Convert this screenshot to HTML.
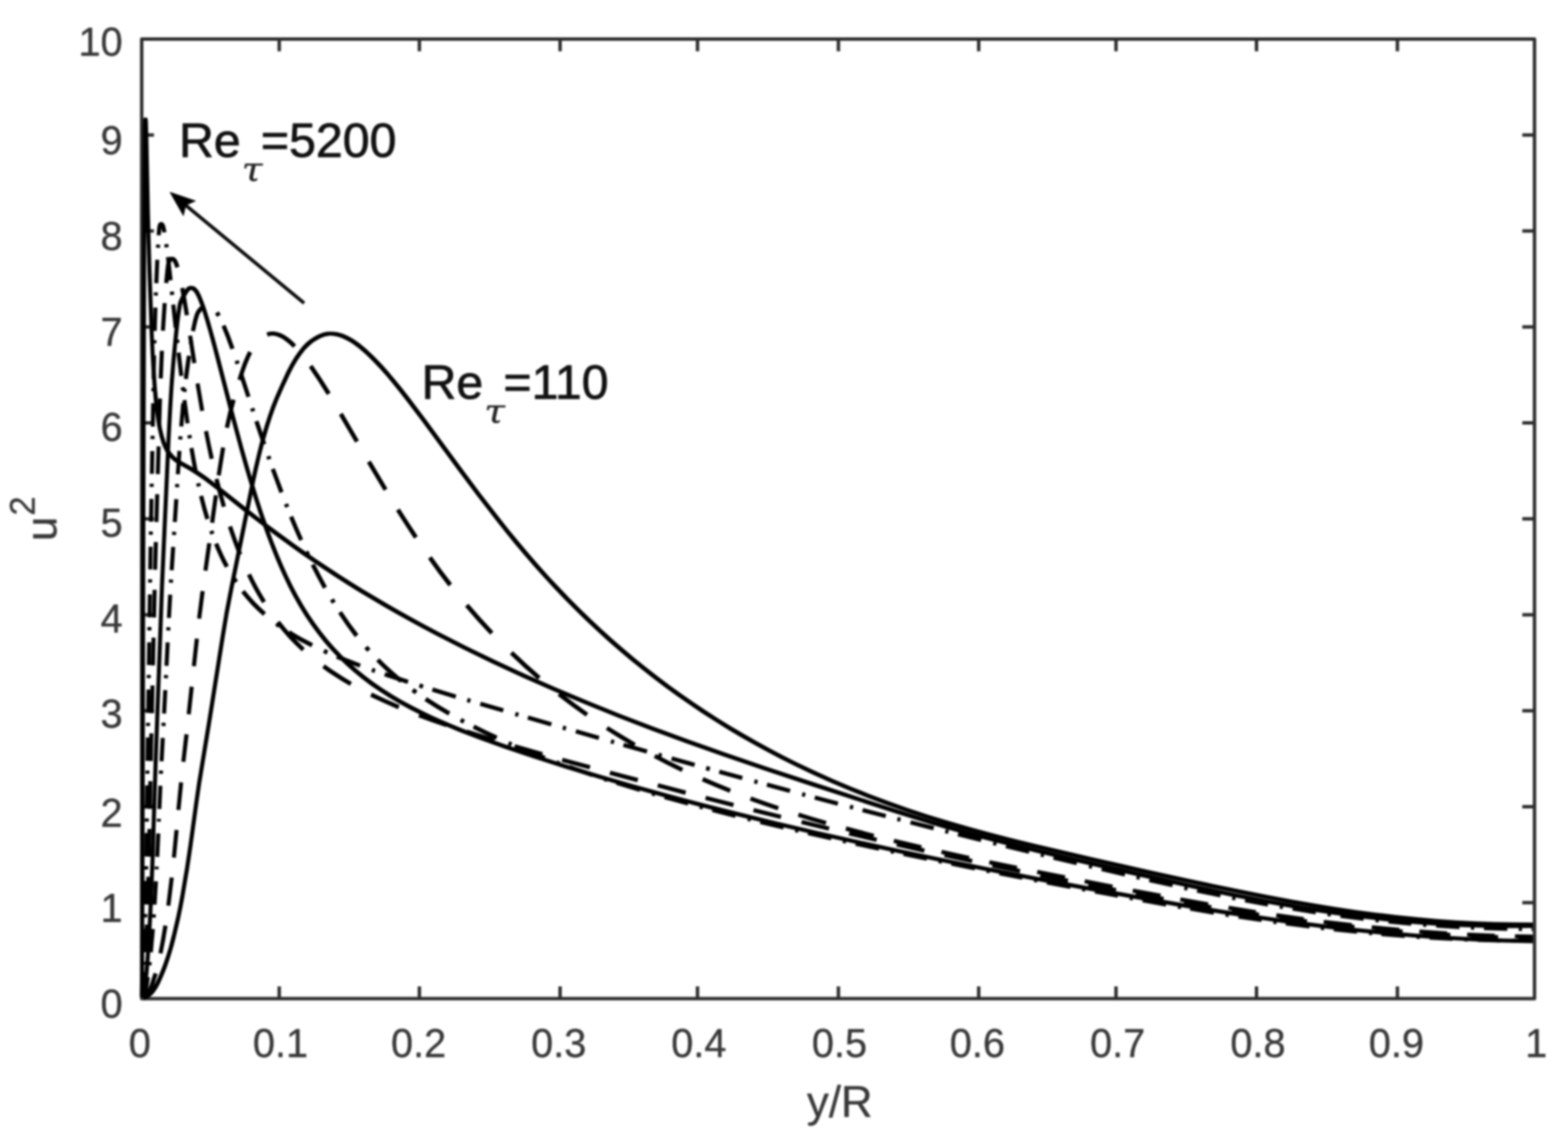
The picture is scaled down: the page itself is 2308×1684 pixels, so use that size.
<!DOCTYPE html>
<html lang="en">
<head>
<meta charset="utf-8">
<title>u2 versus y/R</title>
<style>
html,body{margin:0;padding:0;background:#fff;}
body{width:2308px;height:1684px;overflow:hidden;}
svg{display:block;}
text{font-family:"Liberation Sans",Arial,Helvetica,sans-serif;fill:#383838;stroke:#383838;stroke-width:0.5px;stroke-linejoin:round;}
.tk{font-size:58.5px;}
.lb{font-size:64.5px;}
.sup{font-size:51px;}
.an{font-size:71px;fill:#111;stroke:#111;stroke-width:1.1px;}
.sub{font-family:"DejaVu Serif","Liberation Serif",serif;font-style:italic;font-size:49px;fill:#222;stroke:#222;stroke-width:0.5px;}
</style>
</head>
<body>
<svg xmlns="http://www.w3.org/2000/svg" width="2308" height="1684" viewBox="0 0 2308 1684">
<defs><filter id="bl" color-interpolation-filters="sRGB" x="0" y="0" width="2308" height="1684" filterUnits="userSpaceOnUse"><feGaussianBlur stdDeviation="1.45"/></filter></defs>
<rect x="0" y="0" width="2308" height="1684" fill="#fff"/>
<g filter="url(#bl)">
<rect x="0" y="0" width="2308" height="1684" fill="#fff"/>
<g id="axes" fill="none" stroke="#2c2c2c" stroke-width="5.0" stroke-linejoin="round">
<rect x="208.6" y="57.4" width="2050.1" height="1412.7"/>
<path d="M411.0 1470.1v-18M411.0 57.4v18M208.6 1328.8h18M2258.7 1328.8h-18M617.3 1470.1v-18M617.3 57.4v18M208.6 1187.6h18M2258.7 1187.6h-18M824.4 1470.1v-18M824.4 57.4v18M208.6 1046.3h18M2258.7 1046.3h-18M1026.7 1470.1v-18M1026.7 57.4v18M208.6 905.0h18M2258.7 905.0h-18M1234.1 1470.1v-18M1234.1 57.4v18M208.6 763.8h18M2258.7 763.8h-18M1440.6 1470.1v-18M1440.6 57.4v18M208.6 622.5h18M2258.7 622.5h-18M1642.7 1470.1v-18M1642.7 57.4v18M208.6 481.2h18M2258.7 481.2h-18M1849.5 1470.1v-18M1849.5 57.4v18M208.6 339.9h18M2258.7 339.9h-18M2056.9 1470.1v-18M2056.9 57.4v18M208.6 198.7h18M2258.7 198.7h-18"/>
</g>
<g id="curves" fill="#000" stroke="none">
<path id="re110" d="M212.2 1472.3L216.3 1470.3L221.0 1467.2L224.3 1464.4L227.2 1461.2L230.2 1457.0L232.8 1452.7L235.8 1446.9L239.1 1439.5L242.6 1431.3L245.8 1423.0L249.2 1413.0L252.8 1401.5L255.9 1390.7L258.7 1379.8L264.9 1353.2L268.0 1338.2L271.0 1322.5L278.1 1280.6L283.2 1246.5L292.4 1179.1L296.2 1153.1L311.2 1061.5L330.7 938.2L336.6 902.8L343.7 865.9L375.1 710.7L379.2 692.0L383.5 673.3L387.4 657.8L391.1 644.0L395.6 628.7L400.2 614.3L405.0 600.8L409.9 588.3L416.9 572.3L427.0 550.6L432.4 540.0L438.0 530.6L443.3 522.8L449.5 514.8L454.2 509.9L460.0 505.0L463.1 502.8L467.0 500.4L470.4 498.5L473.7 496.9L477.1 495.7L479.9 494.9L482.8 494.4L485.7 494.1L489.3 494.2L493.0 494.7L496.6 495.4L500.9 496.7L505.1 498.4L509.3 500.4L514.0 503.0L518.6 505.8L523.0 509.0L528.0 512.8L538.2 521.5L548.4 531.4L559.8 543.5L568.7 553.6L577.9 564.6L587.9 577.0L599.2 591.5L621.4 620.8L675.4 694.3L701.8 729.6L730.2 766.3L743.7 783.2L756.8 799.4L771.8 817.2L786.5 834.2L800.9 850.3L815.6 866.2L830.6 881.9L845.8 897.3L861.3 912.4L877.0 927.3L893.6 942.4L909.9 956.7L927.1 971.2L943.9 984.8L961.6 998.7L978.8 1011.7L996.4 1024.5L1014.8 1037.3L1032.7 1049.4L1051.6 1061.6L1070.7 1073.4L1090.0 1084.9L1109.5 1096.0L1129.2 1106.8L1149.1 1117.2L1169.2 1127.3L1195.2 1139.7L1222.3 1151.9L1249.6 1163.5L1277.1 1174.5L1304.9 1185.0L1333.6 1195.1L1362.6 1204.6L1392.4 1213.9L1420.9 1222.1L1451.1 1230.3L1483.6 1238.7L1519.4 1247.5L1559.9 1257.1L1609.0 1268.4L1691.0 1286.9L1745.7 1299.0L1787.9 1308.1L1827.2 1316.1L1864.9 1323.6L1899.5 1330.0L1932.6 1335.8L1964.3 1340.9L1994.4 1345.4L2024.5 1349.5L2054.8 1353.1L2084.3 1356.1L2113.8 1358.7L2142.6 1360.7L2171.4 1362.2L2199.4 1363.2L2227.5 1363.7L2256.2 1363.8L2256.2 1357.9L2228.3 1357.8L2199.6 1357.3L2171.7 1356.2L2143.0 1354.7L2114.3 1352.7L2084.8 1350.1L2055.4 1347.0L2025.3 1343.4L1995.2 1339.4L1965.2 1334.9L1933.6 1329.8L1900.6 1324.0L1866.0 1317.5L1828.4 1310.1L1789.2 1302.0L1747.0 1293.0L1692.3 1280.9L1610.4 1262.4L1561.3 1251.1L1521.6 1241.7L1485.9 1232.9L1453.4 1224.5L1423.4 1216.3L1395.0 1208.1L1365.2 1198.9L1336.4 1189.4L1307.8 1179.3L1280.2 1168.9L1252.8 1157.9L1225.6 1146.4L1198.7 1134.3L1172.7 1121.9L1152.8 1111.9L1133.0 1101.5L1113.4 1090.8L1094.6 1080.1L1075.4 1068.7L1057.1 1057.4L1039.0 1045.7L1021.1 1033.8L1002.7 1021.0L985.3 1008.4L968.1 995.5L951.1 982.2L934.3 968.7L917.8 954.8L901.6 940.7L885.0 925.7L869.3 911.0L853.8 896.0L838.6 880.7L823.1 864.6L808.4 848.9L793.5 832.2L778.3 814.8L763.4 797.1L749.7 780.4L736.3 763.5L707.9 726.9L681.1 691.0L626.1 616.3L602.9 585.6L591.6 571.1L580.9 558.0L571.0 546.3L561.9 536.1L550.2 523.9L539.6 513.9L529.5 505.6L524.2 501.8L519.4 498.6L514.4 495.8L509.9 493.5L505.3 491.6L501.3 490.3L496.4 489.0L492.2 488.4L488.9 488.2L483.7 488.2L480.4 488.6L477.0 489.2L473.7 490.2L470.5 491.4L466.7 493.2L463.0 495.2L456.1 499.8L450.4 504.6L445.1 510.0L439.0 517.7L433.4 525.7L427.6 535.5L421.9 546.3L411.8 568.2L404.7 584.4L399.6 597.1L394.8 610.8L390.1 625.3L385.5 640.8L381.7 654.7L377.9 670.3L373.5 689.0L369.4 707.8L338.0 863.1L330.7 900.9L324.8 936.5L305.3 1059.7L290.3 1151.3L286.5 1177.5L277.4 1244.1L272.3 1278.0L265.5 1318.2L262.6 1333.9L259.7 1348.0L253.8 1373.6L248.4 1394.4L245.2 1405.0L241.7 1415.6L238.7 1423.8L235.5 1431.8L231.7 1440.5L228.6 1446.9L226.0 1451.6L223.5 1455.3L220.7 1458.7L217.6 1461.6L213.6 1464.3L209.7 1466.4Z"/>
<path id="re150" d="M212.7 1471.5L215.7 1469.0L218.8 1465.8L220.9 1462.9L223.1 1459.2L225.2 1454.6L227.0 1450.0L232.1 1433.7L226.1 1432.0L221.3 1447.1L219.7 1451.4L217.7 1455.6L215.9 1458.7L214.3 1460.9L211.6 1463.8L208.8 1466.3ZM239.2 1404.0L242.9 1385.0L246.6 1362.9L240.5 1361.9L236.8 1383.9L233.2 1402.7ZM250.8 1333.5L255.8 1292.1L249.8 1291.5L244.8 1332.7ZM259.0 1262.7L262.9 1222.0L256.9 1221.5L253.0 1262.0ZM265.6 1192.5L269.6 1152.0L263.6 1151.3L259.6 1192.0ZM272.9 1121.8L277.6 1081.2L271.5 1080.5L266.9 1121.1ZM280.8 1051.8L285.2 1011.2L279.1 1010.6L274.8 1051.1ZM288.4 981.0L292.8 940.4L286.8 939.8L282.4 980.3ZM296.1 911.0L301.3 870.6L295.2 869.8L290.1 910.3ZM305.4 840.5L311.1 800.1L305.0 799.2L299.4 839.6ZM315.3 770.0L320.8 729.5L314.8 728.7L309.2 769.1ZM324.9 700.2L331.5 659.2L325.4 658.2L318.9 699.3ZM337.0 630.2L341.8 608.5L346.8 589.2L340.7 587.5L335.8 607.0L330.9 629.0ZM355.5 560.2L360.0 546.6L363.4 536.9L367.7 526.7L371.1 519.7L365.4 516.7L361.5 524.9L357.5 534.6L354.0 544.5L349.5 558.3ZM394.3 495.4L398.1 494.3L401.5 494.0L403.5 494.2L406.2 494.8L410.9 496.4L415.5 498.8L420.4 502.2L425.7 506.6L431.3 512.0L436.0 507.4L430.1 501.7L424.3 497.0L418.8 493.2L413.4 490.6L408.5 488.9L403.3 488.1L399.9 488.1L397.2 488.3L394.6 488.7L392.1 489.5ZM454.6 540.8L467.1 559.2L481.2 581.5L486.7 578.1L472.6 555.7L459.9 537.0ZM498.9 610.9L522.7 651.6L528.3 648.4L504.4 607.6ZM540.1 681.3L564.8 722.6L570.3 719.2L545.7 678.1ZM582.9 751.9L596.3 772.8L609.5 792.9L614.9 789.3L601.7 769.3L588.4 748.4ZM630.0 822.6L645.1 843.4L660.2 863.2L665.4 859.1L650.4 839.5L635.4 818.8ZM684.5 893.0L703.0 914.2L721.6 934.3L726.3 929.7L707.9 909.8L689.5 888.8ZM750.5 963.3L771.0 982.4L791.6 1000.4L795.8 995.4L775.4 977.5L755.0 958.5ZM820.8 1024.2L841.3 1039.8L862.2 1054.7L865.9 1049.4L845.2 1034.5L824.8 1019.1ZM891.6 1074.3L912.0 1087.1L932.7 1099.3L935.9 1093.7L915.4 1081.5L895.1 1068.9ZM962.2 1115.6L982.2 1125.9L1003.1 1136.2L1005.9 1130.4L985.1 1120.2L965.3 1109.9ZM1033.0 1149.9L1052.9 1158.5L1073.7 1167.0L1076.0 1161.1L1055.4 1152.6L1035.6 1144.1ZM1103.6 1178.4L1124.0 1185.7L1144.5 1192.7L1146.5 1186.8L1126.1 1179.8L1105.8 1172.5ZM1174.3 1202.3L1194.2 1208.4L1215.0 1214.5L1216.7 1208.5L1196.0 1202.4L1176.1 1196.3ZM1244.3 1222.7L1285.4 1233.4L1286.9 1227.4L1245.9 1216.6ZM1314.9 1240.8L1355.4 1250.4L1356.8 1244.3L1316.4 1234.7ZM1385.1 1257.1L1425.8 1265.9L1427.1 1259.9L1386.5 1251.0ZM1455.6 1272.2L1496.3 1280.6L1497.5 1274.6L1456.8 1266.2ZM1526.1 1286.6L1567.0 1294.7L1568.2 1288.6L1527.3 1280.6ZM1596.0 1300.3L1636.9 1308.2L1638.1 1302.2L1597.2 1294.3ZM1666.8 1313.9L1707.7 1321.6L1708.8 1315.6L1667.9 1307.9ZM1736.8 1326.9L1777.8 1334.2L1778.8 1328.2L1737.9 1320.9ZM1807.8 1339.3L1848.1 1345.8L1849.0 1339.8L1808.8 1333.3ZM1878.2 1350.4L1918.6 1356.1L1919.4 1350.0L1879.1 1344.3ZM1948.0 1359.9L1989.4 1364.8L1990.0 1358.8L1948.8 1353.9ZM2018.8 1368.0L2059.5 1371.8L2060.0 1365.8L2019.4 1361.9ZM2089.0 1374.2L2129.8 1377.0L2130.2 1371.0L2089.5 1368.2ZM2159.4 1378.7L2200.2 1380.4L2200.4 1374.4L2159.7 1372.7ZM2229.8 1381.2L2256.2 1381.7L2256.2 1375.8L2230.0 1375.3Z"/>
<path id="re300" d="M212.8 1469.6L215.5 1463.6L217.1 1458.8L218.8 1450.7L220.6 1438.7L214.6 1437.9L212.9 1448.8L211.3 1456.4L209.6 1461.3L207.2 1466.6ZM222.9 1421.2L223.5 1416.4L217.5 1415.7L216.9 1420.5ZM225.0 1402.1L228.0 1367.7L222.0 1367.3L219.0 1401.5ZM229.2 1350.9L229.5 1346.1L223.5 1345.7L223.2 1350.5ZM230.5 1331.8L232.5 1297.4L226.5 1297.1L224.5 1331.4ZM233.4 1279.8L233.6 1275.8L227.7 1275.5L227.4 1279.5ZM234.4 1261.4L236.0 1227.0L230.0 1226.8L228.4 1261.1ZM236.7 1209.5L236.9 1205.5L230.9 1205.2L230.8 1209.2ZM237.5 1191.1L239.0 1156.7L233.1 1156.4L231.6 1190.8ZM239.9 1139.1L240.1 1134.4L234.1 1134.1L233.9 1138.9ZM240.8 1120.8L242.6 1086.4L236.6 1086.1L234.8 1120.5ZM243.6 1068.9L243.8 1064.1L237.8 1063.7L237.6 1068.5ZM244.5 1050.5L246.3 1016.1L240.3 1015.8L238.5 1050.2ZM247.2 998.5L247.4 993.7L241.4 993.4L241.2 998.2ZM248.1 980.2L249.8 945.8L243.8 945.5L242.1 979.9ZM250.7 928.2L250.9 923.4L245.0 923.1L244.7 927.9ZM251.6 909.8L253.5 875.5L247.5 875.2L245.7 909.5ZM254.5 858.0L254.8 853.2L248.8 852.8L248.5 857.6ZM255.7 839.6L257.9 805.3L251.9 804.9L249.7 839.2ZM259.1 787.7L259.4 782.9L253.4 782.5L253.1 787.3ZM260.3 768.6L262.5 735.0L256.5 734.6L254.3 768.2ZM263.6 717.5L263.9 712.7L257.9 712.3L257.6 717.1ZM264.8 698.3L267.1 664.0L261.1 663.6L258.8 697.9ZM268.3 647.2L268.7 642.5L262.7 642.0L262.3 646.8ZM269.8 628.1L272.7 593.9L266.7 593.3L263.8 627.6ZM274.4 577.2L274.9 572.4L268.9 571.8L268.4 576.6ZM276.6 558.2L281.2 524.2L275.1 523.3L272.5 541.5L270.5 557.4ZM283.8 506.8L284.5 502.1L278.5 501.1L277.7 505.8ZM287.0 488.0L290.1 474.1L292.8 464.4L293.9 462.1L295.8 459.3L297.5 457.2L299.3 455.4L295.1 450.4L292.6 452.9L290.5 455.5L288.7 458.2L287.2 461.4L286.1 464.7L284.2 471.8L281.0 486.8ZM316.5 461.7L319.3 466.4L324.9 463.3L322.0 458.2ZM326.1 480.5L332.4 495.9L339.2 514.6L345.2 512.5L338.3 493.6L331.9 477.9ZM345.3 532.0L346.8 536.5L352.8 534.5L351.2 529.9ZM351.6 550.9L362.8 585.1L368.7 583.2L357.6 548.9ZM368.2 601.9L369.7 606.4L375.7 604.5L374.2 599.9ZM374.4 620.9L385.9 655.0L391.9 653.0L380.4 618.9ZM391.9 672.4L393.5 677.0L399.5 674.9L397.9 670.4ZM398.6 691.3L411.4 725.9L417.3 723.6L404.5 689.2ZM418.0 743.1L419.8 747.6L425.7 745.2L423.9 740.8ZM425.5 761.7L433.0 779.4L440.4 796.3L446.2 793.7L438.8 776.9L431.4 759.3ZM448.1 813.1L450.5 818.2L456.3 815.4L453.9 810.4ZM457.5 832.6L466.4 849.7L475.6 866.7L481.2 863.5L472.1 846.7L463.3 829.7ZM485.7 884.0L488.6 888.8L494.2 885.5L491.3 880.7ZM497.7 903.1L509.9 921.1L522.4 937.9L527.6 933.8L515.2 917.3L503.1 899.6ZM536.2 954.7L540.5 959.5L545.4 955.2L541.2 950.4ZM553.7 973.6L561.8 981.6L570.6 989.8L579.1 997.3L588.4 1005.0L592.5 1000.0L583.3 992.3L575.0 985.0L566.3 976.9L558.4 969.1ZM605.6 1018.3L610.8 1022.1L614.6 1016.8L609.4 1013.0ZM624.7 1031.7L641.7 1042.5L659.7 1053.2L662.9 1047.6L645.1 1037.0L628.3 1026.3ZM676.5 1062.5L681.5 1065.2L684.5 1059.5L679.6 1056.9ZM695.7 1072.6L712.3 1080.8L729.7 1089.0L732.4 1083.1L715.1 1075.0L698.6 1066.8ZM747.3 1096.8L751.7 1098.7L754.2 1092.9L749.8 1091.0ZM766.5 1105.0L783.5 1112.0L800.7 1118.7L803.0 1112.8L785.9 1106.1L768.9 1099.1ZM818.0 1125.2L822.5 1126.9L824.7 1120.9L820.2 1119.3ZM836.8 1132.0L870.9 1143.7L872.9 1137.8L838.9 1126.1ZM888.4 1149.5L893.0 1151.0L894.9 1145.0L890.4 1143.5ZM906.8 1155.3L941.2 1165.8L943.0 1159.8L908.6 1149.3ZM958.9 1171.0L963.5 1172.3L965.3 1166.3L960.7 1165.0ZM977.4 1176.2L1012.2 1185.8L1013.8 1179.8L979.1 1170.2ZM1029.2 1190.4L1033.8 1191.6L1035.4 1185.6L1030.8 1184.3ZM1047.8 1195.2L1081.9 1203.9L1083.4 1197.9L1049.3 1189.2ZM1099.8 1208.3L1104.4 1209.5L1105.9 1203.4L1101.3 1202.3ZM1118.5 1212.9L1152.7 1221.0L1154.1 1215.0L1119.9 1206.8ZM1169.9 1225.0L1174.5 1226.1L1175.9 1220.0L1171.3 1219.0ZM1188.6 1229.3L1223.0 1237.0L1224.3 1231.0L1190.0 1223.2ZM1240.1 1240.8L1244.8 1241.8L1246.2 1235.8L1241.5 1234.8ZM1258.9 1244.9L1293.3 1252.3L1294.6 1246.3L1260.2 1238.9ZM1310.6 1255.9L1315.3 1256.9L1316.5 1250.9L1311.8 1249.9ZM1329.4 1259.9L1363.8 1267.0L1365.1 1261.0L1330.6 1253.8ZM1381.1 1270.5L1385.8 1271.5L1387.0 1265.4L1382.3 1264.5ZM1399.9 1274.3L1434.4 1281.2L1435.6 1275.2L1401.1 1268.3ZM1451.7 1284.7L1456.4 1285.6L1457.6 1279.5L1452.9 1278.6ZM1470.6 1288.4L1504.3 1294.9L1505.5 1288.9L1471.7 1282.3ZM1521.6 1298.3L1526.3 1299.2L1527.5 1293.1L1522.8 1292.2ZM1540.5 1301.9L1575.1 1308.4L1576.2 1302.4L1541.6 1295.8ZM1592.4 1311.7L1597.1 1312.6L1598.2 1306.5L1593.5 1305.6ZM1611.2 1315.2L1645.1 1321.5L1646.2 1315.5L1612.4 1309.2ZM1662.4 1324.7L1667.1 1325.6L1668.2 1319.5L1663.5 1318.7ZM1681.3 1328.2L1715.9 1334.4L1717.0 1328.4L1682.4 1322.1ZM1733.3 1337.5L1738.0 1338.3L1739.1 1332.2L1734.3 1331.4ZM1751.4 1340.6L1786.2 1346.4L1787.2 1340.4L1752.5 1334.5ZM1803.5 1349.2L1808.3 1350.0L1809.3 1343.9L1804.5 1343.2ZM1822.5 1352.2L1856.6 1357.3L1857.5 1351.3L1823.5 1346.2ZM1874.0 1359.8L1878.8 1360.5L1879.6 1354.4L1874.9 1353.8ZM1892.3 1362.3L1927.2 1366.8L1928.0 1360.8L1893.1 1356.3ZM1943.9 1368.8L1948.7 1369.4L1949.4 1363.4L1944.6 1362.8ZM1963.0 1371.0L1997.2 1374.6L1997.8 1368.6L1963.7 1365.0ZM2014.8 1376.3L2019.6 1376.8L2020.1 1370.8L2015.3 1370.3ZM2033.1 1378.0L2067.5 1380.7L2067.9 1374.7L2033.6 1372.0ZM2085.0 1382.0L2089.8 1382.3L2090.2 1376.3L2085.4 1376.0ZM2104.2 1383.2L2137.8 1385.0L2138.1 1379.1L2104.6 1377.2ZM2155.4 1385.8L2160.2 1386.0L2160.4 1380.0L2155.6 1379.8ZM2174.6 1386.5L2208.2 1387.4L2208.4 1381.5L2174.8 1380.6ZM2225.9 1387.7L2230.7 1387.8L2230.7 1381.8L2225.9 1381.8ZM2245.1 1387.9L2256.2 1388.0L2256.2 1382.0L2245.1 1382.0Z"/>
<path id="re395" d="M212.6 1469.0L214.7 1462.0L215.9 1456.2L217.1 1446.5L218.8 1430.6L220.2 1413.0L221.7 1391.4L224.4 1341.8L227.4 1269.0L232.0 1123.5L241.5 861.3L251.0 647.9L253.2 605.6L255.1 573.6L257.6 540.2L260.2 511.6L264.1 474.2L265.6 462.4L267.3 451.4L267.9 448.5L268.8 445.9L270.9 441.2L273.0 437.3L276.2 432.0L278.2 429.1L279.8 427.5L281.4 426.7L282.2 426.9L283.4 427.7L285.7 430.0L287.7 433.0L290.1 437.7L292.8 444.2L295.6 451.6L298.6 460.6L301.9 471.2L307.0 488.8L313.1 511.2L339.3 612.6L352.6 662.1L359.8 687.6L366.6 710.6L373.4 732.8L380.1 753.4L386.6 772.4L392.8 789.8L399.1 806.3L405.4 821.9L411.7 836.7L418.4 851.3L424.7 864.4L431.4 877.2L439.7 891.9L448.6 906.4L457.6 919.8L467.1 932.8L477.1 945.4L487.2 957.0L497.7 968.1L508.7 978.8L520.2 989.0L532.7 999.2L545.5 1008.9L558.8 1018.1L573.1 1027.2L587.6 1035.8L603.9 1044.7L620.4 1053.0L633.5 1059.2L646.6 1065.1L660.7 1071.1L674.8 1076.9L706.2 1089.1L741.7 1101.8L784.9 1116.3L831.5 1131.2L879.7 1145.8L929.7 1160.3L979.9 1174.2L1031.7 1187.9L1086.1 1201.7L1142.0 1215.3L1199.7 1228.8L1259.1 1242.1L1320.9 1255.5L1384.3 1268.8L1452.6 1282.5L1523.3 1296.2L1595.6 1309.8L1670.5 1323.3L1738.2 1335.2L1795.1 1344.7L1847.3 1352.8L1897.2 1360.0L1944.1 1366.1L1990.2 1371.5L2035.6 1376.1L2080.3 1380.0L2125.0 1383.2L2169.0 1385.7L2212.2 1387.4L2256.2 1388.5L2256.3 1382.6L2212.4 1381.5L2169.3 1379.7L2125.4 1377.2L2080.8 1374.0L2036.2 1370.1L1990.9 1365.5L1944.8 1360.1L1898.1 1354.0L1848.2 1346.8L1795.3 1338.5L1738.5 1329.0L1670.7 1317.1L1596.0 1303.6L1523.6 1290.0L1453.8 1276.5L1385.6 1262.7L1322.1 1249.5L1261.2 1236.3L1201.9 1222.9L1144.3 1209.4L1088.3 1195.8L1034.8 1182.3L983.1 1168.6L933.0 1154.7L883.0 1140.3L834.9 1125.7L788.4 1110.9L745.2 1096.3L709.1 1083.4L677.9 1071.3L663.9 1065.6L649.9 1059.6L636.9 1053.7L623.9 1047.6L607.6 1039.3L592.2 1031.0L577.8 1022.5L563.7 1013.6L550.6 1004.6L537.9 995.1L525.6 985.1L514.4 975.1L503.5 964.7L493.1 953.8L483.2 942.4L473.2 930.1L463.8 917.3L454.9 904.2L446.5 890.7L438.2 876.2L430.8 862.2L423.5 847.2L416.3 831.2L409.1 814.3L402.1 796.5L394.9 777.1L387.8 756.7L380.6 734.8L369.6 698.9L358.4 659.7L345.5 611.8L323.8 527.4L316.2 498.7L308.4 470.9L304.8 459.4L301.8 450.2L298.7 441.9L295.9 435.1L293.3 429.8L291.0 426.1L288.5 423.4L286.3 421.8L283.8 420.9L280.4 420.7L278.7 421.0L276.2 422.1L274.2 423.8L272.0 426.5L268.1 432.7L265.5 437.7L262.8 443.7L261.7 447.8L258.8 467.1L256.1 491.8L252.7 526.9L250.0 560.5L247.8 595.6L245.3 642.8L235.7 856.2L226.1 1121.7L221.4 1268.8L218.4 1342.3L215.7 1391.0L214.2 1412.5L212.7 1430.0L211.1 1445.9L210.0 1454.4L208.9 1459.6L206.7 1466.8Z"/>
<path id="re590" d="M212.3 1468.4L213.7 1461.3L214.3 1456.4L215.1 1447.5L216.2 1431.5L210.2 1431.1L209.2 1446.3L208.4 1454.9L207.8 1459.5L206.3 1467.0ZM217.7 1401.9L219.3 1361.1L213.3 1360.9L211.7 1401.6ZM220.2 1331.5L221.3 1290.7L215.4 1290.5L214.3 1331.3ZM222.0 1261.1L222.9 1220.3L217.0 1220.2L216.1 1260.9ZM223.5 1190.7L224.3 1149.9L218.3 1149.8L217.5 1190.6ZM224.9 1120.3L225.8 1079.5L219.8 1079.4L218.9 1120.2ZM226.5 1049.9L227.4 1009.1L221.5 1009.0L220.5 1049.8ZM228.1 979.5L229.0 938.7L223.1 938.6L222.1 979.4ZM229.7 909.1L230.6 868.3L224.6 868.2L223.7 909.0ZM231.3 838.7L232.4 798.0L226.4 797.8L225.3 838.6ZM233.2 768.4L234.4 727.6L228.4 727.4L227.3 768.2ZM235.3 698.0L236.4 657.2L230.5 657.0L229.3 697.8ZM237.3 627.6L238.5 586.8L232.6 586.6L231.3 627.4ZM239.6 557.3L241.3 516.5L235.3 516.2L233.6 557.0ZM242.8 487.0L245.4 446.3L239.4 445.9L236.8 486.6ZM247.6 416.9L250.1 393.0L250.9 388.6L251.7 386.2L252.4 384.9L253.1 384.1L253.0 383.8L254.4 385.4L255.3 386.8L256.2 388.6L258.2 394.4L264.2 392.6L262.7 387.8L261.0 383.8L259.1 380.8L257.2 379.0L254.9 378.0L251.5 377.9L249.9 378.5L247.9 380.1L246.9 381.4L245.8 383.8L244.5 389.0L243.5 397.1L241.6 416.3ZM265.2 424.4L268.3 441.7L272.1 464.6L278.2 463.6L274.4 440.7L271.2 423.3ZM276.8 494.6L283.0 534.9L289.1 534.0L282.8 493.7ZM287.8 565.0L294.6 605.2L300.6 604.2L293.8 564.0ZM300.2 635.2L304.3 655.6L308.6 676.0L314.7 674.7L310.3 654.4L306.2 634.0ZM315.6 705.7L321.0 726.7L326.6 746.8L332.6 745.0L327.0 725.0L321.6 704.2ZM335.5 775.9L342.9 797.2L350.6 817.5L356.5 815.1L348.8 795.0L341.5 773.9ZM363.5 847.0L368.9 857.8L374.5 868.5L380.1 878.3L385.9 888.0L391.4 884.6L385.6 875.1L380.2 865.4L374.6 854.9L369.3 844.2ZM406.6 917.8L415.8 929.1L424.9 939.4L434.4 949.3L444.3 958.8L448.7 954.0L439.0 944.7L429.7 935.0L420.8 924.9L411.8 913.8ZM474.3 983.3L483.5 989.9L493.6 996.6L503.8 1003.0L514.9 1009.6L518.1 1003.9L507.2 997.5L497.1 991.1L487.2 984.5L478.1 978.1ZM544.8 1025.4L564.4 1034.6L585.8 1043.9L588.2 1038.0L567.1 1028.8L547.6 1019.6ZM615.6 1055.7L635.2 1062.9L656.4 1070.3L658.5 1064.3L637.4 1056.9L617.9 1049.8ZM686.1 1080.1L726.6 1092.7L728.4 1086.7L688.0 1074.1ZM756.6 1101.6L797.4 1113.3L799.1 1107.3L758.3 1095.6ZM826.7 1121.4L867.6 1132.6L869.2 1126.6L828.3 1115.4ZM897.0 1140.5L938.0 1151.4L939.6 1145.3L898.6 1134.5ZM967.4 1159.1L1008.4 1169.9L1010.0 1163.8L969.0 1153.1ZM1037.8 1177.5L1078.9 1188.0L1080.5 1182.0L1039.4 1171.5ZM1108.4 1195.5L1148.8 1205.6L1150.3 1199.5L1109.9 1189.5ZM1179.1 1213.0L1219.6 1222.8L1221.0 1216.8L1180.6 1207.0ZM1249.1 1229.8L1289.7 1239.3L1291.1 1233.2L1250.6 1223.8ZM1319.3 1246.1L1359.9 1255.2L1361.3 1249.1L1320.7 1240.0ZM1389.6 1261.7L1430.3 1270.5L1431.6 1264.5L1391.0 1255.7ZM1460.1 1276.9L1500.8 1285.3L1502.0 1279.3L1461.3 1270.8ZM1530.6 1291.4L1571.4 1299.6L1572.6 1293.5L1531.8 1285.4ZM1601.3 1305.4L1642.1 1313.3L1643.3 1307.3L1602.4 1299.4ZM1671.2 1318.8L1712.2 1326.3L1713.3 1320.3L1672.4 1312.7ZM1742.1 1331.6L1782.4 1338.5L1783.4 1332.4L1743.2 1325.6ZM1812.4 1343.3L1852.8 1349.5L1853.7 1343.5L1813.4 1337.3ZM1882.9 1353.8L1923.4 1359.2L1924.1 1353.2L1883.7 1347.8ZM1952.8 1362.9L1993.4 1367.4L1994.0 1361.4L1953.5 1356.8ZM2023.6 1370.5L2064.3 1374.2L2064.8 1368.2L2024.2 1364.5ZM2093.9 1376.5L2134.6 1379.2L2135.0 1373.2L2094.3 1370.5ZM2164.2 1380.8L2205.0 1382.6L2205.2 1376.6L2164.5 1374.9ZM2234.6 1383.5L2256.1 1384.1L2256.3 1378.1L2234.8 1377.6Z"/>
<path id="re1000" d="M212.1 1468.1L213.3 1456.9L214.3 1437.6L208.3 1437.3L207.3 1456.4L206.0 1467.2ZM215.0 1420.0L215.1 1416.0L209.1 1415.8L209.0 1419.8ZM215.5 1401.6L216.4 1367.2L210.5 1367.0L209.6 1401.4ZM216.8 1350.4L216.9 1345.6L210.9 1345.4L210.8 1350.2ZM217.2 1331.2L217.8 1296.8L211.8 1296.7L211.2 1331.0ZM218.0 1279.9L218.1 1275.1L212.2 1275.1L212.1 1279.9ZM218.3 1260.7L218.8 1226.3L212.9 1226.3L212.4 1260.7ZM219.0 1209.5L219.1 1204.7L213.2 1204.7L213.1 1209.5ZM219.3 1190.3L219.7 1155.9L213.7 1155.9L213.3 1190.3ZM219.9 1139.1L219.9 1134.3L214.0 1134.3L214.0 1139.1ZM220.1 1119.9L220.6 1085.5L214.7 1085.5L214.2 1119.9ZM220.8 1068.7L220.9 1063.9L215.0 1063.9L214.9 1068.7ZM221.1 1049.5L221.6 1015.1L215.7 1015.1L215.2 1049.5ZM221.9 998.3L221.9 993.5L216.0 993.5L215.9 998.3ZM222.2 979.1L222.6 945.5L216.7 945.5L216.2 979.1ZM222.9 927.9L222.9 923.1L217.0 923.1L216.9 927.9ZM223.1 908.7L223.6 875.1L217.7 875.1L217.2 908.7ZM223.9 857.5L223.9 852.7L218.0 852.7L217.9 857.5ZM224.1 838.3L224.6 804.8L218.7 804.7L218.2 838.3ZM224.9 787.2L225.0 782.4L219.1 782.3L219.0 787.1ZM225.3 768.0L225.9 734.4L219.9 734.3L219.3 767.9ZM226.2 716.8L226.3 712.0L220.3 711.9L220.3 716.7ZM226.5 697.6L227.2 664.0L221.2 663.9L220.6 697.5ZM227.5 646.4L227.6 641.6L221.6 641.5L221.5 646.3ZM227.8 628.0L228.4 593.6L222.5 593.5L221.9 627.9ZM228.7 576.0L228.8 571.2L222.9 571.1L222.8 575.9ZM229.1 557.6L229.8 523.2L223.9 523.1L223.2 557.5ZM230.2 505.6L230.4 500.8L224.4 500.7L224.3 505.5ZM230.7 487.2L231.7 452.8L225.8 452.7L224.8 487.1ZM232.3 435.3L232.5 430.5L226.6 430.2L226.4 435.1ZM233.1 416.9L234.5 382.5L228.6 382.3L227.1 416.7ZM235.5 365.0L235.7 360.2L229.8 359.8L229.5 364.6ZM236.6 346.6L237.4 336.4L238.0 334.0L238.7 332.5L237.9 332.9L236.0 332.7L236.9 334.1L237.5 335.8L239.0 342.5L245.1 341.4L243.3 333.2L242.5 330.9L241.4 328.9L240.4 327.9L239.0 327.0L238.0 326.8L236.0 326.9L235.1 327.2L234.3 327.7L233.3 328.9L232.6 330.1L232.0 332.3L231.3 336.6L230.6 346.3ZM241.7 359.8L242.3 364.5L248.4 363.7L247.7 359.0ZM244.2 378.8L248.1 412.9L254.1 412.3L250.2 378.0ZM249.9 429.6L250.5 434.4L256.5 433.7L256.0 429.0ZM252.0 448.7L255.7 482.9L261.8 482.3L258.0 448.1ZM257.7 500.4L258.2 505.2L264.2 504.5L263.7 499.7ZM259.8 519.5L263.9 553.7L269.9 553.0L265.9 518.8ZM265.9 570.4L266.5 575.1L272.6 574.4L272.0 569.6ZM268.4 589.4L273.1 623.6L279.1 622.7L274.4 588.6ZM275.7 641.0L276.5 645.7L282.5 644.8L281.8 640.1ZM278.8 660.0L281.9 678.2L285.1 694.7L291.1 693.5L288.0 677.1L284.8 659.0ZM288.7 712.0L289.7 716.7L295.7 715.3L294.7 710.7ZM293.0 730.8L297.6 748.7L302.3 764.9L308.3 763.1L303.6 747.0L299.0 729.3ZM308.1 782.5L309.7 787.1L315.6 784.9L314.0 780.4ZM315.1 801.4L318.8 810.3L322.8 819.2L327.0 827.9L331.2 835.8L336.8 832.7L332.8 825.0L328.6 816.5L324.7 807.8L321.0 799.0ZM341.4 853.2L345.0 858.6L350.4 855.0L346.9 849.7ZM355.0 872.4L362.7 881.8L370.2 890.2L378.2 898.3L387.2 906.6L391.5 901.6L382.8 893.6L375.0 885.8L367.6 877.5L360.1 868.4ZM404.8 920.8L409.4 924.1L413.2 918.8L408.7 915.5ZM423.5 933.5L431.8 938.6L440.2 943.4L458.0 952.8L460.9 947.1L443.3 937.8L435.1 933.0L427.0 928.0ZM475.4 961.1L480.6 963.4L483.2 957.6L478.1 955.3ZM494.6 969.4L511.0 976.0L529.0 982.8L531.2 976.9L513.3 970.1L497.1 963.5ZM546.4 989.1L550.9 990.7L553.0 984.7L548.5 983.1ZM565.3 995.6L599.6 1006.8L601.5 1000.8L567.3 989.6ZM616.4 1012.1L621.8 1013.7L623.6 1007.7L618.3 1006.1ZM635.5 1018.0L670.0 1028.4L671.8 1022.4L637.4 1012.0ZM686.9 1033.4L691.5 1034.7L693.3 1028.7L688.7 1027.3ZM706.1 1039.0L739.9 1048.8L741.7 1042.8L707.9 1033.0ZM757.6 1053.9L762.2 1055.3L764.0 1049.2L759.4 1047.9ZM776.1 1059.2L810.7 1069.2L812.4 1063.2L777.8 1053.2ZM827.6 1074.0L832.2 1075.4L833.9 1069.3L829.3 1068.0ZM846.8 1079.5L880.7 1089.2L882.4 1083.2L848.5 1073.5ZM898.4 1094.3L903.0 1095.6L904.7 1089.6L900.1 1088.3ZM916.8 1099.5L951.5 1109.3L953.2 1103.3L918.6 1093.5ZM968.4 1114.1L973.1 1115.4L974.8 1109.4L970.1 1108.1ZM987.7 1119.5L1021.6 1129.0L1023.3 1122.9L989.4 1113.5ZM1038.6 1133.7L1044.0 1135.2L1045.6 1129.1L1040.2 1127.6ZM1057.9 1139.0L1091.8 1148.3L1093.5 1142.3L1059.5 1133.0ZM1109.6 1153.1L1114.2 1154.4L1115.8 1148.4L1111.2 1147.1ZM1128.1 1158.1L1162.1 1167.3L1163.7 1161.3L1129.7 1152.1ZM1179.9 1172.0L1184.5 1173.3L1186.1 1167.2L1181.5 1166.0ZM1198.5 1177.0L1232.5 1185.9L1234.1 1179.9L1200.1 1170.9ZM1250.3 1190.6L1255.0 1191.8L1256.5 1185.8L1251.9 1184.6ZM1268.9 1195.4L1303.0 1204.2L1304.6 1198.2L1270.5 1189.4ZM1320.1 1208.6L1324.7 1209.8L1326.2 1203.8L1321.6 1202.6ZM1339.4 1213.5L1373.6 1222.2L1375.1 1216.1L1341.0 1207.5ZM1390.7 1226.5L1395.3 1227.6L1396.8 1221.6L1392.2 1220.4ZM1409.3 1231.1L1443.5 1239.6L1445.0 1233.5L1410.8 1225.1ZM1461.3 1244.0L1466.0 1245.1L1467.5 1239.1L1462.8 1237.9ZM1480.0 1248.5L1514.2 1256.8L1515.7 1250.8L1481.5 1242.5ZM1531.3 1261.0L1536.0 1262.1L1537.4 1256.0L1532.8 1254.9ZM1550.0 1265.4L1584.3 1273.6L1585.7 1267.5L1551.4 1259.4ZM1602.2 1277.8L1606.8 1278.9L1608.3 1272.9L1603.6 1271.8ZM1620.9 1282.2L1655.2 1290.2L1656.6 1284.1L1622.3 1276.2ZM1672.3 1294.1L1677.0 1295.2L1678.4 1289.2L1673.7 1288.1ZM1691.0 1298.4L1725.4 1306.1L1726.7 1300.1L1692.4 1292.4ZM1742.6 1309.9L1747.3 1310.9L1748.6 1304.9L1743.9 1303.8ZM1761.4 1313.9L1795.9 1321.1L1797.1 1315.0L1762.7 1307.9ZM1813.2 1324.5L1817.9 1325.4L1819.1 1319.4L1814.4 1318.5ZM1832.1 1328.2L1865.9 1334.4L1867.0 1328.4L1833.2 1322.1ZM1883.3 1337.4L1888.0 1338.2L1889.0 1332.2L1884.3 1331.4ZM1902.2 1340.6L1936.3 1346.0L1937.2 1339.9L1903.2 1334.6ZM1953.7 1348.5L1958.5 1349.2L1959.3 1343.2L1954.6 1342.5ZM1972.7 1351.2L2006.9 1355.5L2007.6 1349.5L1973.6 1345.1ZM2024.4 1357.5L2029.2 1358.1L2029.9 1352.0L2025.1 1351.5ZM2043.6 1359.6L2077.0 1362.8L2077.6 1356.7L2044.2 1353.6ZM2094.6 1364.2L2099.4 1364.6L2099.9 1358.6L2095.1 1358.2ZM2113.8 1365.6L2148.2 1367.7L2148.5 1361.7L2114.2 1359.6ZM2165.0 1368.5L2169.8 1368.7L2170.0 1362.8L2165.3 1362.6ZM2184.2 1369.3L2218.6 1370.2L2218.8 1364.3L2184.4 1363.3ZM2235.5 1370.4L2240.3 1370.5L2240.3 1364.5L2235.5 1364.5ZM2254.3 1370.5L2256.2 1370.5L2256.2 1364.6L2254.4 1364.6Z"/>
<path id="re5200" d="M211.6 1467.7L212.1 1425.3L212.6 1312.5L214.0 735.6L215.1 371.6L216.1 195.6L216.4 182.1L216.6 178.7L217.0 177.1L216.4 178.2L213.8 178.9L211.7 178.0L211.3 177.0L211.8 180.7L212.2 192.6L214.7 314.2L217.2 404.6L220.3 490.2L221.6 519.0L223.0 544.6L224.5 567.0L226.2 587.0L228.1 604.5L230.2 619.7L232.5 632.4L235.1 643.5L238.0 652.9L241.2 660.6L244.0 665.8L247.4 670.6L251.4 675.0L255.9 678.9L259.3 681.4L263.5 684.0L278.2 692.3L284.9 696.4L292.2 701.2L300.6 707.1L318.3 720.6L360.4 753.9L381.9 770.6L404.3 787.5L426.3 803.6L442.6 815.2L459.1 826.6L475.7 837.8L493.2 849.2L510.7 860.4L528.4 871.4L564.2 892.8L583.0 903.5L601.9 914.1L621.6 924.8L641.4 935.3L682.1 956.1L724.6 976.8L768.9 997.3L814.4 1017.3L861.7 1037.1L910.0 1056.5L958.6 1075.2L1008.9 1093.7L1064.0 1113.2L1124.6 1133.9L1195.2 1157.4L1316.2 1196.8L1366.7 1212.5L1389.7 1219.4L1413.6 1226.2L1439.1 1233.2L1466.2 1240.3L1524.4 1255.0L1589.9 1270.5L1672.6 1289.4L1753.8 1307.4L1811.8 1319.7L1866.0 1330.3L1892.0 1335.0L1917.3 1339.4L1962.4 1346.4L2006.1 1352.3L2049.1 1357.2L2069.8 1359.2L2091.4 1361.0L2112.2 1362.5L2133.0 1363.7L2154.6 1364.8L2175.4 1365.5L2193.8 1366.0L2217.1 1366.3L2256.3 1366.0L2256.2 1360.1L2218.7 1360.3L2194.7 1360.1L2176.4 1359.6L2155.6 1358.9L2134.1 1357.8L2113.4 1356.5L2092.7 1355.0L2072.0 1353.3L2050.5 1351.2L2007.6 1346.4L1964.1 1340.5L1919.1 1333.5L1893.9 1329.1L1867.9 1324.4L1841.2 1319.3L1813.0 1313.7L1755.1 1301.4L1673.2 1283.1L1590.5 1264.3L1525.9 1248.9L1468.5 1234.5L1441.5 1227.3L1416.1 1220.4L1392.2 1213.6L1369.3 1206.8L1318.9 1191.1L1198.0 1151.6L1127.4 1128.2L1066.8 1107.5L1011.8 1088.0L961.5 1069.5L913.0 1050.9L864.8 1031.6L817.7 1011.7L772.3 991.8L728.1 971.3L685.7 950.7L645.1 930.0L625.3 919.5L605.7 908.8L586.9 898.3L568.2 887.6L533.2 866.7L515.5 855.8L498.7 845.0L482.0 834.1L465.4 823.0L433.3 800.6L410.7 784.1L387.1 766.4L365.0 749.2L322.3 715.5L305.1 702.3L296.5 696.3L289.1 691.3L282.1 687.1L267.5 678.9L260.5 674.2L256.5 670.9L253.0 667.1L249.9 663.0L247.0 657.8L243.9 650.8L241.1 641.9L238.7 632.0L236.5 620.3L234.5 606.2L232.7 590.3L231.0 572.1L229.5 551.4L227.8 524.3L226.3 492.3L223.0 398.8L220.7 314.8L218.4 202.9L217.8 181.2L217.6 177.1L217.2 174.7L216.7 173.8L214.5 172.8L211.8 173.5L211.2 174.5L211.0 175.1L210.4 181.0L210.1 195.5L209.3 355.5L208.7 506.0L206.6 1331.7L206.2 1429.3L205.7 1467.5Z"/>
</g>
<g class="tk" text-anchor="middle">
<text x="205.8" y="1556.2">0</text>
<text x="413.0" y="1556.2">0.1</text>
<text x="616.1" y="1556.2">0.2</text>
<text x="822.3" y="1556.2">0.3</text>
<text x="1028.6" y="1556.2">0.4</text>
<text x="1235.6" y="1556.2">0.5</text>
<text x="1438.7" y="1556.2">0.6</text>
<text x="1645.2" y="1556.2">0.7</text>
<text x="1851.7" y="1556.2">0.8</text>
<text x="2055.4" y="1556.2">0.9</text>
<text x="2261.2" y="1556.2">1</text>
</g>
<g class="tk" text-anchor="end">
<text x="180.5" y="1497.9">0</text>
<text x="180.5" y="1357.2">1</text>
<text x="180.5" y="1216.5">2</text>
<text x="180.5" y="1071.4">3</text>
<text x="180.5" y="930.7">4</text>
<text x="180.5" y="790.0">5</text>
<text x="180.5" y="649.4">6</text>
<text x="180.5" y="508.7">7</text>
<text x="180.5" y="368.0">8</text>
<text x="180.5" y="227.3">9</text>
<text x="180.5" y="82.2">10</text>
</g>
<text class="lb" text-anchor="middle" x="1236.0" y="1643.5">y/R</text>
<g transform="translate(83,796.5) rotate(-90)"><text class="lb" x="0" y="0">u</text><text class="sup" x="37.5" y="-32">2</text></g>
<text class="an" x="263.5" y="231.0">Re</text><text class="sub" transform="translate(356.0,266.0) scale(1.12,1)" x="0" y="0">τ</text><text class="an" x="384.0" y="231.0">=5200</text>
<text class="an" x="620.5" y="586.5">Re</text><text class="sub" transform="translate(713.0,621.5) scale(1.12,1)" x="0" y="0">τ</text><text class="an" x="741.0" y="586.5">=110</text>
<g id="arrow"><path d="M447.7 446.3L272.6 301.5" stroke="#0c0c0c" stroke-width="5.0" fill="none"/><path d="M250.3 283.0L287.7 295.8L273.4 302.1L269.9 317.4Z" fill="#000" stroke="#000" stroke-width="1" stroke-linejoin="round"/></g>
</g>
</svg>
</body>
</html>
